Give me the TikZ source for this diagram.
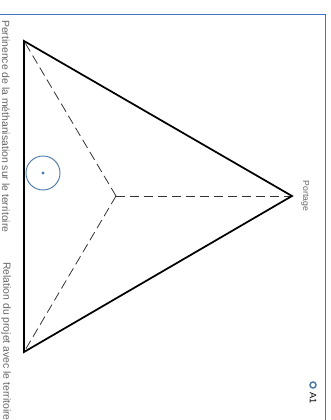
\documentclass[tikz,border=0pt]{standalone}
\usepackage{fontspec}
\setmainfont{Liberation Sans}
\definecolor{cadreblue}{rgb}{0.27,0.45,0.77}
\definecolor{serieblue}{rgb}{0.30,0.47,0.65}
\definecolor{textgray}{rgb}{0.40,0.40,0.40}

\begin{document}
\begin{tikzpicture}[x=0.75pt, y=-0.75pt,
  axe/.style={line width=1.3pt, black},
  rayon/.style={black!80, line width=0.6pt, dash pattern=on 7pt off 3.5pt},
  etiquette/.style={rotate=-90, font=\fontsize{7.8}{9}\selectfont, text=textgray, inner sep=0pt}]

\useasboundingbox (0,0) rectangle (331,420);
\clip (0,0) rectangle (331,420);

% Cadre
\draw[cadreblue, line width=0.6pt] (-3,14) rectangle (325,440);

% Sommets du radar et centre
\coordinate (pert) at (24,41);
\coordinate (rel)  at (24,352);
\coordinate (port) at (292,196);
\coordinate (ctr)  at (116,196);

% Rayons en tirets
\draw[rayon] (ctr) -- (pert);
\draw[rayon] (ctr) -- (rel);
\draw[rayon] (ctr) -- (port);

% Contour
\draw[axe, line join=miter] (pert) -- (rel) -- (port) -- cycle;

% Serie A1
\node[circle, draw=serieblue, line width=0.7pt, minimum size=25.5pt, inner sep=0pt] (a1pt) at (43,173) {};
\fill[serieblue] (a1pt.center) circle (1.2pt);

% Libelles des axes
\node[etiquette, anchor=west] (lpert) at (6,20) {Pertinence de la méthanisation sur le territoire};
\node[etiquette, anchor=west] (lrel)  at (6,262) {Relation du projet avec le territoire};
\node[etiquette, anchor=south, font=\fontsize{6.5}{7}\selectfont] (lport) at (301,196) {Portage};

% Legende
\node[circle, draw=serieblue, line width=1.1pt, minimum size=4.5pt, inner sep=0pt] (legpt) at (313,385) {};
\node[etiquette, anchor=west, text=black, font=\fontsize{7}{8}\selectfont] (legtxt) at (313,392) {A1};

\end{tikzpicture}
\end{document}
